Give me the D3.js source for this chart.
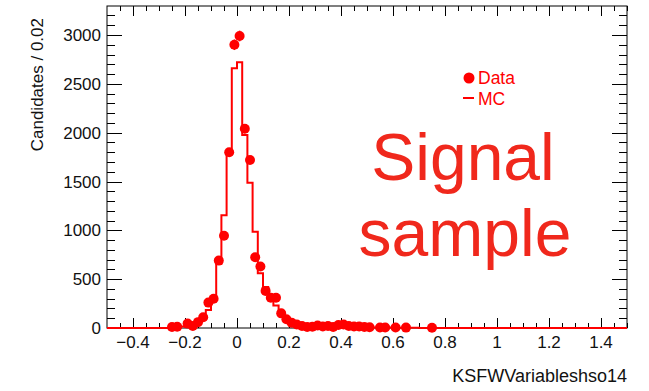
<!DOCTYPE html>
<html><head><meta charset="utf-8">
<script src="https://cdn.jsdelivr.net/npm/d3@7"></script>
<style>body{margin:0;background:#fff}svg{display:block}text{font-family:"Liberation Sans",Arial,sans-serif}</style>
</head><body>
<svg id="c" width="649" height="391"></svg>
<script>
// ---- data ----
const dataX = [-0.25,-0.23,-0.19,-0.17,-0.15,-0.13,-0.11,-0.09,-0.07,-0.05,-0.03,-0.01,0.01,0.03,0.05,0.07,0.09,0.11,0.13,0.15,0.17,0.19,0.21,0.23,0.25,0.27,0.29,0.31,0.33,0.35,0.37,0.39,0.41,0.43,0.45,0.47,0.49,0.51,0.55,0.57,0.61,0.65,0.75];
const dataY = [10,12,45,20,60,110,260,300,690,945,1800,2900,2990,2040,1720,725,630,380,310,310,150,90,55,35,20,10,12,25,15,20,10,30,35,20,15,15,10,8,6,6,5,4,3];
const mcStart = -0.26, binWidth = 0.02;
const mcY = [5,10,15,25,40,60,100,185,300,660,1155,1800,2660,2720,1975,1487,985,560,420,300,230,150,100,65,45,35,28,24,20,18,16,15,14,12,11,10,9,8,7,6,5,5,4,4,3,3,2,2];
const xTicks = [-0.4,-0.2,0,0.2,0.4,0.6,0.8,1,1.2,1.4];
const yTicks = [0,500,1000,1500,2000,2500,3000];
const xTitle = "KSFWVariableshso14";
const yTitle = "Candidates / 0.02";
const legendItems = ["Data","MC"];
const bigText = ["Signal","sample"];

// ---- layout ----
const L=107, R=627, T=6, B=328;
const red = "#ff0000";
const svg = d3.select("#c");
const x = d3.scaleLinear().domain([-0.5,1.5]).range([L,R]);
const y = d3.scaleLinear().domain([0,3297]).range([B,T]);

// frame
svg.append("rect").attr("x",L).attr("y",T).attr("width",R-L).attr("height",B-T)
  .attr("fill","none").attr("stroke","#000").attr("stroke-width",1);

// ticks
const g = svg.append("g").attr("stroke","#000").attr("stroke-width",1);
const xMinor = d3.range(-0.45,1.5001,0.05);
xMinor.forEach(v=>{
  const isMajor = Math.abs(Math.round(v*5)-v*5)<1e-6;
  const len = isMajor?10:5;
  const px = Math.round(x(v))+0.5;
  g.append("line").attr("x1",px).attr("x2",px).attr("y1",B).attr("y2",B-len);
  g.append("line").attr("x1",px).attr("x2",px).attr("y1",T).attr("y2",T+len);
});
d3.range(0,3297,100).forEach(v=>{
  const isMajor = v%500===0;
  const len = isMajor?15:8;
  const py = Math.round(y(v))+0.5;
  g.append("line").attr("x1",L).attr("x2",L+len).attr("y1",py).attr("y2",py);
  g.append("line").attr("x1",R).attr("x2",R-len).attr("y1",py).attr("y2",py);
});

// tick labels
const fmt = v => (v<0?"\u2212":"") + String(Math.abs(v));
svg.append("g").selectAll("text").data(xTicks).join("text")
  .attr("x",d=>x(d)).attr("y",B+20).attr("text-anchor","middle")
  .attr("font-size",17).attr("fill","#111").text(fmt);
svg.append("g").selectAll("text").data(yTicks).join("text")
  .attr("x",L-6).attr("y",d=>y(d)+6).attr("text-anchor","end")
  .attr("font-size",17).attr("fill","#111").text(d=>d);

// axis titles
svg.append("text").attr("x",R).attr("y",382).attr("text-anchor","end")
  .attr("font-size",18).attr("fill","#111").text(xTitle);
svg.append("text").attr("transform","translate(43,18) rotate(-90)").attr("text-anchor","end")
  .attr("font-size",17).attr("fill","#111").text(yTitle);

// MC histogram
const pts = [[-0.5,0]];
mcY.forEach((v,i)=>{
  const lo = mcStart + i*binWidth;
  pts.push([lo, i===0?0:mcY[i-1]]);
  pts.push([lo, v]);
});
const endX = mcStart + mcY.length*binWidth;
pts.push([endX, mcY[mcY.length-1]]);
pts.push([endX, 0]);
pts.push([1.5,0]);
svg.append("path").attr("d", d3.line().x(d=>x(d[0])).y(d=>y(d[1]))(pts))
  .attr("fill","none").attr("stroke",red).attr("stroke-width",2);

// data points with error bars
const dp = svg.append("g");
dataX.forEach((cx,i)=>{
  const v = dataY[i], e = Math.sqrt(v);
  dp.append("line").attr("x1",x(cx)).attr("x2",x(cx)).attr("y1",y(v+e)).attr("y2",y(Math.max(0,v-e)))
    .attr("stroke",red).attr("stroke-width",1.5);
  dp.append("circle").attr("cx",x(cx)).attr("cy",y(v)).attr("r",5).attr("fill",red);
});

// legend
svg.append("circle").attr("cx",469).attr("cy",78).attr("r",5.5).attr("fill",red);
svg.append("line").attr("x1",463).attr("x2",474).attr("y1",98).attr("y2",98).attr("stroke",red).attr("stroke-width",2);
svg.append("text").attr("x",478).attr("y",84).attr("font-size",17.5).attr("fill",red).text(legendItems[0]);
svg.append("text").attr("x",478).attr("y",105).attr("font-size",17.5).attr("fill",red).text(legendItems[1]);

// big label
svg.append("text").attr("x",463).attr("y",180).attr("text-anchor","middle")
  .attr("font-size",66).attr("fill","#f0281c").text(bigText[0]);
svg.append("text").attr("x",465).attr("y",256).attr("text-anchor","middle")
  .attr("font-size",66).attr("fill","#f0281c").text(bigText[1]);
</script>
</body></html>
